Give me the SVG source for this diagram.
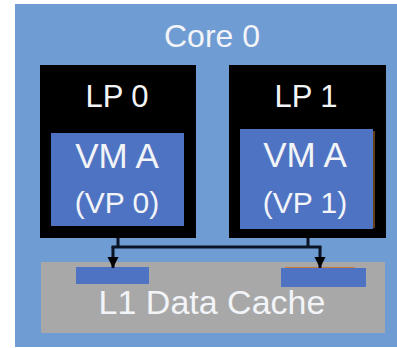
<svg xmlns="http://www.w3.org/2000/svg" width="397" height="348" viewBox="0 0 397 348">
<style>
.t{font-family:"Liberation Sans",Arial,sans-serif;fill:#f2f4f8;text-anchor:middle}
.lp{fill:#000}
.vm{fill:#4f73c3}
.slot{fill:#4f73c3}
.wire{fill:none;stroke:#0a1424;stroke-width:3}
</style>
<defs>
<marker id="ah" viewBox="0 0 10 10" refX="10" refY="5" markerWidth="11" markerHeight="12" markerUnits="userSpaceOnUse" orient="auto">
<path d="M0,0 L10,5 L0,10 Z" fill="#000"/>
</marker>
</defs>
<rect width="397" height="348" fill="#fff"/>
<g id="core0">
<rect x="15" y="4" width="382" height="343" fill="#6f9cd3"/>
<text class="t" x="212" y="47" font-size="32">Core 0</text>
</g>
<g id="cache">
<rect x="41" y="262" width="344" height="71" fill="#a8a8a8"/>
<rect class="slot" x="76" y="267" width="73" height="17"/>
<rect class="slot" x="281" y="268" width="85" height="19"/>
<line x1="285" y1="267.5" x2="355" y2="267.5" stroke="#c87a3a" stroke-width="1"/>
<text class="t" x="212" y="314" font-size="34">L1 Data Cache</text>
</g>
<g id="lp0">
<rect class="lp" x="40" y="65" width="156" height="173"/>
<text class="t" x="117" y="107" font-size="31">LP 0</text>
</g>
<g id="vm0">
<rect class="vm" x="51" y="133" width="133" height="93"/>
<text class="t" x="117" y="168" font-size="35">VM A</text>
<text class="t" x="117" y="213" font-size="30">(VP 0)</text>
</g>
<g id="lp1">
<rect class="lp" x="229" y="65" width="157" height="173"/>
<text class="t" x="306" y="107" font-size="31">LP 1</text>
</g>
<g id="vm1">
<rect class="vm" x="240" y="129" width="133" height="100"/>
<line x1="374" y1="131" x2="374" y2="228" stroke="#c87a3a" stroke-width="1"/>
<text class="t" x="305" y="167" font-size="35">VM A</text>
<text class="t" x="305" y="213" font-size="30">(VP 1)</text>
</g>
<g id="connectors">
<line class="wire" x1="118" y1="238" x2="118" y2="247"/>
<line class="wire" x1="308" y1="238" x2="308" y2="247"/>
<line class="wire" x1="111.5" y1="247" x2="321.5" y2="247"/>
<line class="wire" x1="113" y1="247" x2="113" y2="268" marker-end="url(#ah)"/>
<line class="wire" x1="320" y1="247" x2="320" y2="268" marker-end="url(#ah)"/>
</g>
</svg>
